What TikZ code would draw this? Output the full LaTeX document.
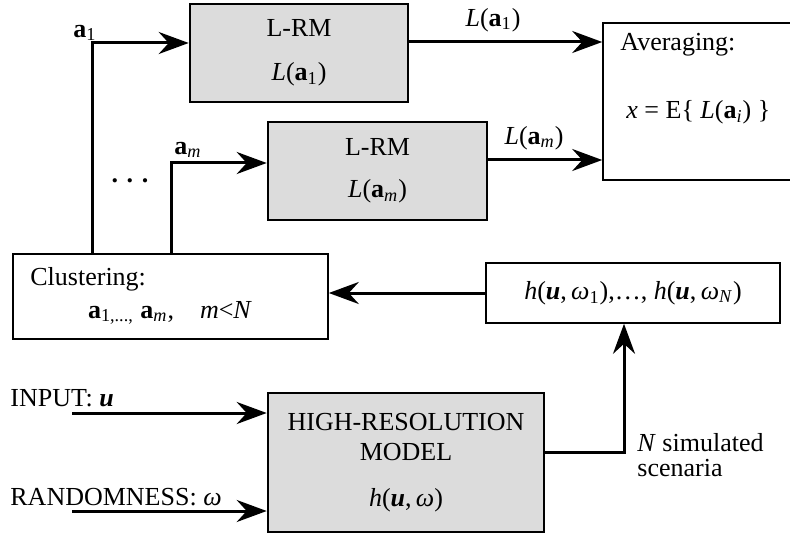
\documentclass[tikz,border=0pt]{standalone}
\usepackage{fontspec}
\setmainfont{Liberation Serif}
\usepackage{xcolor}
\usetikzlibrary{arrows.meta}

\definecolor{boxgray}{RGB}{220,220,220}

\tikzset{
    graybox/.style={draw, line width=1.3pt, fill=boxgray, align=center, inner sep=2pt},
    whitebox/.style={draw, line width=0.8pt, fill=white, inner sep=2pt},
    link/.style={line width=1.5pt, -{Stealth[length=15pt, width=11pt, inset=5pt]}},
    wire/.style={line width=1.5pt}
}

\begin{document}
\begin{tikzpicture}[x=0.5pt, y=-0.5pt, font=\fontsize{13}{15}\selectfont]
    \useasboundingbox (0,0) rectangle (790,534);

    % Reduced models
    \node[graybox, minimum width=109pt, minimum height=49pt] (lrm1) at (299,53)
        {L-RM\\[7pt]\textit{L}(\textbf{a}\textsubscript{1})};
    \node[graybox, minimum width=109.5pt, minimum height=49pt] (lrm2) at (377.5,171)
        {L-RM\\[6pt]\textit{L}(\textbf{a}\textsubscript{\textit{m}})};

    % Averaging box (runs off the right edge)
    \node[whitebox, minimum width=102pt, minimum height=78.5pt] (avg) at (705,101.5) {};
    \node[anchor=west, inner sep=0pt] (avgtitle) at (620,45) {Averaging:};
    \node[anchor=west, inner sep=0pt] (avgform) at (626,112)
        {\textit{x} = E\{ \textit{L}(\textbf{a}\textsubscript{\textit{i}}) \}};

    % Clustering and scenario boxes
    \node[whitebox, minimum width=157.5pt, minimum height=42.5pt] (clus) at (170.5,296.5) {};
    \node[anchor=west, inner sep=0pt] (clustitle) at (30,279) {Clustering:};
    \node[inner sep=0pt] (clusform) at (170,313)
        {\textbf{a}\textsubscript{1,...,} \textbf{a}\textsubscript{\textit{m}},\quad \textit{m}<\textit{N}};
    \node[whitebox, minimum width=147pt, minimum height=30pt] (hbox) at (633,293)
        {\textit{h}(\textbf{\textit{u}},\,\textit{ω}\textsubscript{1}),\dots, \textit{h}(\textbf{\textit{u}},\,\textit{ω}\textsubscript{\textit{N}})};

    % High-resolution model
    \node[graybox, minimum width=138pt, minimum height=69.5pt] (hrm) at (406,462.5)
        {HIGH-RESOLUTION\\MODEL\\[8pt]\textit{h}(\textbf{\textit{u}},\,\textit{ω})};

    % Labels
    \node (a1) at (85,33) {\textbf{a}\textsubscript{1}};
    \node (am) at (188,150) {\textbf{a}\textsubscript{\textit{m}}};
    \node (dots) at (130,181) {\textbf{.\,\,.\,\,.}};
    \node (la1) at (493,20) {\textit{L}(\textbf{a}\textsubscript{1})};
    \node (lam) at (534,138) {\textit{L}(\textbf{a}\textsubscript{\textit{m}})};
    \node[anchor=west, inner sep=0pt] (input) at (10,398) {INPUT: \textbf{\textit{u}}};
    \node[anchor=west, inner sep=0pt] (rand) at (10,497) {RANDOMNESS: \textit{ω}};
    \node[anchor=west, align=left, inner sep=0pt] (nsim) at (637,455)
        {\textit{N} simulated\\[-2.5pt]scenaria};

    % Free ends and corners
    \coordinate (tap1) at (92,0);
    \coordinate (tap2) at (171,0);
    \coordinate (inu) at (72,413);
    \coordinate (inw) at (72,511);
    \coordinate (turn) at (624,0);

    % Connectors
    \draw[link] (tap1 |- clus.north) |- ([yshift=5pt]lrm1.west);
    \draw[link] (tap2 |- clus.north) |- ([yshift=4pt]lrm2.west);
    \draw[link] ([yshift=5.5pt]lrm1.east) -- ([yshift=5.5pt]lrm1.east -| avg.west);
    \draw[link] ([yshift=5.5pt]lrm2.east) -- ([yshift=5.5pt]lrm2.east -| avg.west);
    \draw[link] (hbox.west) -- (hbox.west -| clus.east);
    \draw[link] (inu) -- (inu -| hrm.west);
    \draw[link] (inw) -- (inw -| hrm.west);
    \draw[link] ([yshift=5pt]hrm.east) -| (turn |- hbox.south);
\end{tikzpicture}
\end{document}
